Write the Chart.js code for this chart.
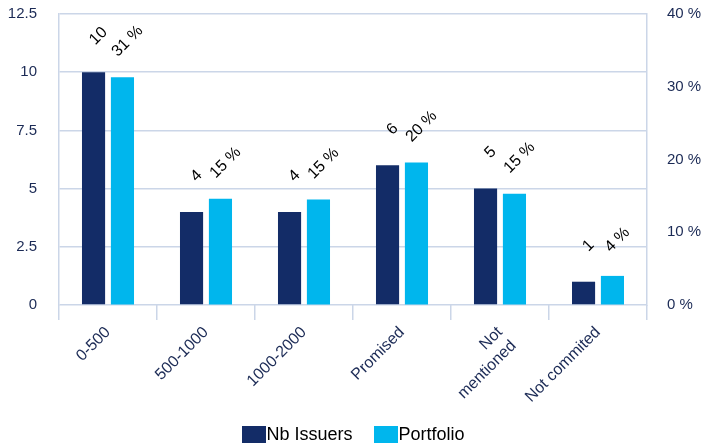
<!DOCTYPE html>
<html>
<head>
<meta charset="utf-8">
<script src="https://cdn.jsdelivr.net/npm/chart.js@4.4.1/dist/chart.umd.min.js"></script>
<style>
  body { margin: 0; background: #fff; }
  #wrap { position: relative; width: 707px; height: 447px; }
  #legend {
    position: absolute; left: 0; right: 0; top: 424px;
    display: flex; justify-content: center; align-items: center;
    font-family: "Liberation Sans", Arial, sans-serif; font-size: 18px; color: #000;
  }
  #legend span.box { display: inline-block; width: 24px; height: 17px; }
  #legend span.item { display: inline-flex; align-items: center; margin: 0 11px; }
</style>
</head>
<body>
<div id="wrap">
  <canvas id="myChart" width="707" height="447"></canvas>
  <div id="legend"></div>
</div>
<script>
var categories = ['0-500', '500-1000', '1000-2000', 'Promised', ['Not', 'mentioned'], 'Not commited'];
var nbIssuers = [10, 4, 4, 6, 5, 1];
var portfolio = [31.3, 14.6, 14.5, 19.6, 15.3, 4.0];
var leftTicks = ['0', '2.5', '5', '7.5', '10', '12.5'];
var rightTicks = ['0 %', '10 %', '20 %', '30 %', '40 %'];

var navy = '#132c67';
var cyan = '#00b6ed';
var gridColor = '#cbd6e8';
var tickColor = '#1b2a55';
var font = '"Liberation Sans", Arial, sans-serif';

// rotated value labels above each bar
var valueLabels = {
    id: 'valueLabels',
    afterDatasetsDraw: function(chart) {
        var ctx = chart.ctx;
        chart.data.datasets.forEach(function(ds, i) {
            var meta = chart.getDatasetMeta(i);
            meta.data.forEach(function(bar, j) {
                var v = ds.data[j];
                var txt = i == 0 ? String(v) : Math.round(v) + ' %';
                ctx.save();
                ctx.translate(bar.x + 5, bar.y - 36);
                ctx.rotate(-Math.PI / 4);
                ctx.font = '16px ' + font;
                ctx.fillStyle = '#000';
                ctx.textAlign = 'center';
                ctx.textBaseline = 'middle';
                ctx.fillText(txt, 0, 0);
                ctx.restore();
            });
        });
    }
};

function fixY(w) {
    return function(s) {
        s.width = w;
        s.paddingTop = 0;
        s.paddingBottom = 0;
    };
}

var ctx = document.getElementById('myChart');
var myChart = new Chart(ctx, {
    type: 'bar',
    data: {
        labels: categories,
        datasets: [{
            label: 'Nb Issuers',
            data: nbIssuers,
            backgroundColor: navy,
            yAxisID: 'y',
            categoryPercentage: 0.59,
            barPercentage: 0.8
        }, {
            label: 'Portfolio',
            data: portfolio,
            backgroundColor: cyan,
            yAxisID: 'y1',
            categoryPercentage: 0.59,
            barPercentage: 0.8
        }]
    },
    options: {
        responsive: false,
        animation: false,
        layout: { padding: { top: 14, left: 0, right: 0, bottom: 0 } },
        plugins: {
            legend: { display: false },
            tooltip: { enabled: false }
        },
        scales: {
            x: {
                grid: { display: true, drawOnChartArea: false, color: gridColor, lineWidth: 1.5, tickLength: 15, offset: true },
                border: { display: false },
                ticks: { color: tickColor, font: { size: 16, family: font }, minRotation: 45, maxRotation: 45, padding: 3 },
                afterFit: function(s) { s.height = 142; s.paddingLeft = 0; s.paddingRight = 0; }
            },
            y: {
                position: 'left',
                min: 0, max: 12.5,
                grid: { color: gridColor, lineWidth: 1.5, drawTicks: false },
                border: { color: gridColor, width: 1.5 },
                ticks: {
                    stepSize: 2.5, padding: 22, color: tickColor, font: { size: 15, family: font },
                    callback: function(v, i) { return leftTicks[i]; }
                },
                afterFit: fixY(59)
            },
            y1: {
                position: 'right',
                min: 0, max: 40,
                grid: { drawOnChartArea: false, drawTicks: false },
                border: { color: gridColor, width: 1.5 },
                ticks: {
                    stepSize: 10, padding: 20, color: tickColor, font: { size: 15, family: font },
                    callback: function(v, i) { return rightTicks[i]; }
                },
                afterFit: fixY(60)
            }
        }
    },
    plugins: [valueLabels]
});

// legend without gap between swatch and text, like the original
var legend = document.getElementById('legend');
myChart.data.datasets.forEach(function(ds) {
    var item = document.createElement('span');
    item.className = 'item';
    var box = document.createElement('span');
    box.className = 'box';
    box.style.background = ds.backgroundColor;
    item.appendChild(box);
    item.appendChild(document.createTextNode(ds.label));
    legend.appendChild(item);
});
</script>
</body>
</html>
